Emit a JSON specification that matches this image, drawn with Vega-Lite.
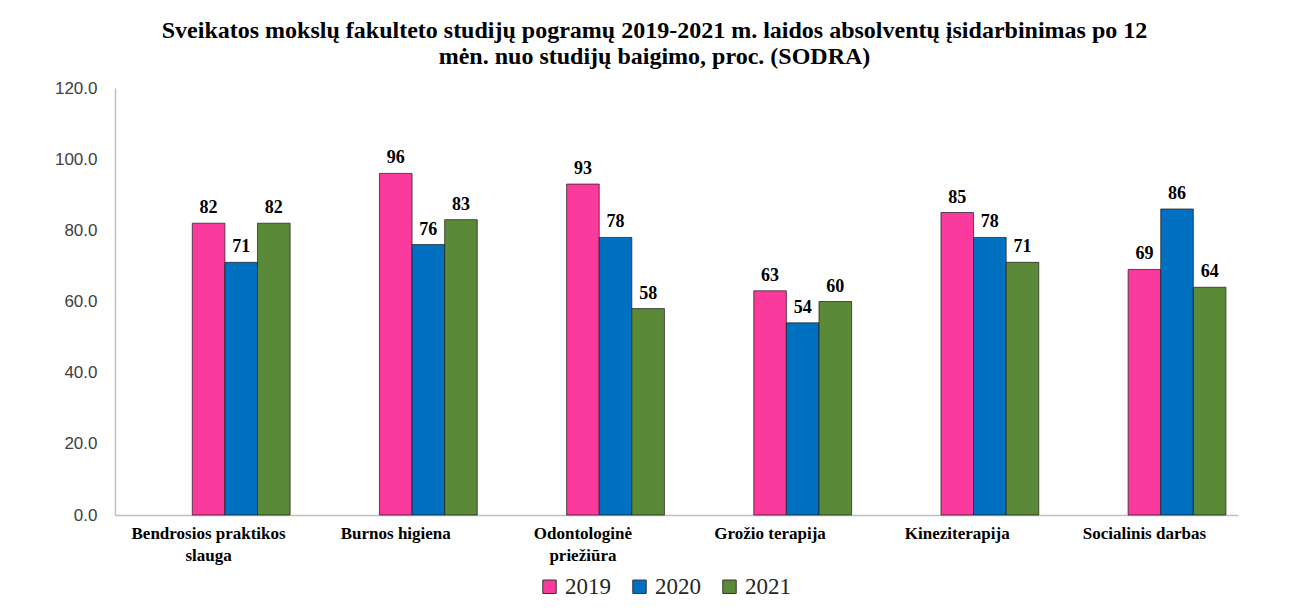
{
  "$schema": "https://vega.github.io/schema/vega-lite/v6.json",
  "autosize": "none",
  "width": 1123,
  "height": 427,
  "padding": {"left": 115, "top": 88, "right": 62, "bottom": 95},
  "background": "white",
  "title": {
    "text": ["Sveikatos  mokslų fakulteto studijų pogramų 2019-2021 m. laidos absolventų įsidarbinimas po 12", "mėn. nuo studijų baigimo, proc. (SODRA)"],
    "font": "Liberation Serif",
    "fontSize": 24,
    "fontWeight": "bold",
    "color": "#000000",
    "anchor": "middle",
    "dx": -22,
    "offset": 10,
    "lineHeight": 26
  },
  "data": {
    "values": [
      {"program": "Bendrosios praktikos|slauga", "year": "2019", "value": 82},
      {"program": "Bendrosios praktikos|slauga", "year": "2020", "value": 71},
      {"program": "Bendrosios praktikos|slauga", "year": "2021", "value": 82},
      {"program": "Burnos higiena", "year": "2019", "value": 96},
      {"program": "Burnos higiena", "year": "2020", "value": 76},
      {"program": "Burnos higiena", "year": "2021", "value": 83},
      {"program": "Odontologinė|priežiūra", "year": "2019", "value": 93},
      {"program": "Odontologinė|priežiūra", "year": "2020", "value": 78},
      {"program": "Odontologinė|priežiūra", "year": "2021", "value": 58},
      {"program": "Grožio terapija", "year": "2019", "value": 63},
      {"program": "Grožio terapija", "year": "2020", "value": 54},
      {"program": "Grožio terapija", "year": "2021", "value": 60},
      {"program": "Kineziterapija", "year": "2019", "value": 85},
      {"program": "Kineziterapija", "year": "2020", "value": 78},
      {"program": "Kineziterapija", "year": "2021", "value": 71},
      {"program": "Socialinis darbas", "year": "2019", "value": 69},
      {"program": "Socialinis darbas", "year": "2020", "value": 86},
      {"program": "Socialinis darbas", "year": "2021", "value": 64}
    ]
  },
  "encoding": {
    "x": {
      "field": "program",
      "type": "nominal",
      "sort": null,
      "scale": {"paddingInner": 0, "paddingOuter": 0},
      "axis": {
        "title": null,
        "labelAngle": 0,
        "labelExpr": "split(datum.label, '|')",
        "labelFont": "Liberation Serif",
        "labelFontSize": 17,
        "labelFontWeight": "bold",
        "labelColor": "#000000",
        "labelLineHeight": 22,
        "labelPadding": 10,
        "labelBaseline": "top",
        "ticks": false,
        "domainColor": "#BFBFBF",
        "domainWidth": 1.5
      }
    },
    "xOffset": {
      "field": "year",
      "type": "nominal",
      "scale": {"domain": ["p1", "p2", "2019", "2020", "2021"], "paddingInner": 0, "paddingOuter": 0.37}
    },
    "y": {
      "field": "value",
      "type": "quantitative",
      "scale": {"domain": [0, 120], "nice": false},
      "axis": {
        "title": null,
        "values": [0, 20, 40, 60, 80, 100, 120],
        "format": ".1f",
        "grid": false,
        "ticks": false,
        "labelFont": "Liberation Sans",
        "labelFontSize": 17,
        "labelColor": "#404040",
        "labelPadding": 18,
        "domainColor": "#BFBFBF",
        "domainWidth": 1.5
      }
    }
  },
  "layer": [
    {
      "mark": {"type": "bar", "stroke": "#1a1a1a", "strokeWidth": 1, "strokeOpacity": 0.7},
      "encoding": {
        "color": {
          "field": "year",
          "type": "nominal",
          "scale": {"domain": ["2019", "2020", "2021"], "range": ["#FA3A9C", "#0070C0", "#5A8A38"]},
          "legend": {
            "title": null,
            "orient": "none",
            "legendX": 423,
            "legendY": 487,
            "direction": "horizontal",
            "symbolType": "square",
            "symbolSize": 180,
            "symbolStrokeColor": "#333333",
            "symbolStrokeWidth": 1,
            "labelFont": "Liberation Serif",
            "labelFontSize": 23,
            "labelColor": "#262626",
            "labelOffset": 4,
            "columnPadding": 17,
            "encode": {
              "labels": {
                "update": {
                  "font": {"value": "Liberation Serif"},
                  "fontSize": {"value": 23}
                }
              }
            }
          }
        }
      }
    },
    {
      "mark": {"type": "text", "font": "Liberation Serif", "fontSize": 18, "fontWeight": "bold", "color": "#000000", "baseline": "alphabetic", "dy": -10},
      "encoding": {
        "text": {"field": "value", "type": "quantitative"}
      }
    }
  ],
  "config": {
    "view": {"stroke": null}
  }
}
